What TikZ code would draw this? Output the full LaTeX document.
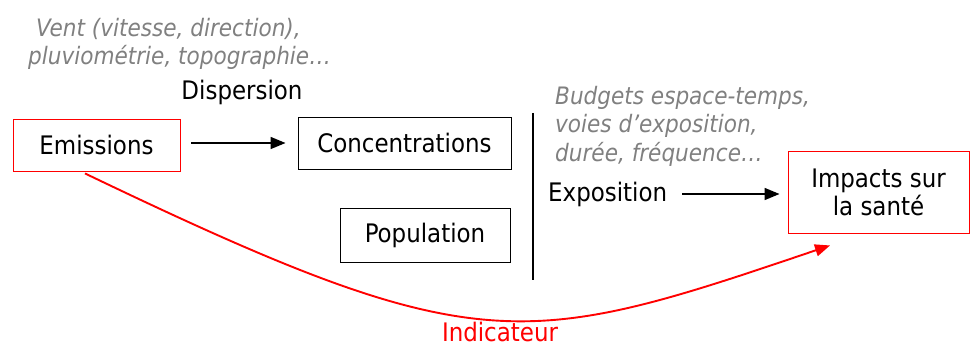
\documentclass[tikz,border=0pt]{standalone}
\usepackage{fontspec}
\setmainfont{DejaVu Sans Condensed}
\usetikzlibrary{arrows.meta}
\definecolor{txtgray}{RGB}{128,128,128}
\definecolor{pred}{RGB}{255,0,0}
\begin{document}
\begin{tikzpicture}[x=1pt,y=-1pt,
  box/.style={draw=black, line width=0.9pt, inner sep=0pt, font=\fontsize{25.5}{31}\selectfont},
  redbox/.style={box, draw=pred},
  lbl/.style={inner sep=0pt, font=\fontsize{25.5}{31}\selectfont},
  note/.style={inner sep=0pt, anchor=base west, text=txtgray, font=\fontsize{24}{28}\selectfont\itshape},
  arr/.style={line width=1.5pt, -{Triangle[length=15pt,width=12pt]}},
  redarr/.style={line width=1.9pt, draw=pred, -{Triangle[length=15pt,width=12pt]}}
]
\useasboundingbox (0,0) rectangle (971,347);

\node[redbox, minimum width=167pt, minimum height=52pt] (emis) at (96.5,145) {Emissions};
\node[box, minimum width=213pt, minimum height=52pt] (conc) at (404.5,143) {Concentrations};
\node[box, minimum width=170pt, minimum height=54pt] (pop) at (425,235) {Population};
\node[redbox, minimum width=181pt, minimum height=82pt, align=center] (imp) at (878.5,192) {Impacts sur\\[-3pt]la santé};

\node[lbl, anchor=base] (disp) at (242,99.5) {Dispersion};
\node[lbl, anchor=west] (expo) at (548,194) {Exposition};
\node[lbl, anchor=base, text=pred] (ind) at (500,341) {Indicateur};

\node[note] (n1) at (36,36.7) {Vent (vitesse, direction),};
\node[note] (n2) at (28,65) {pluviométrie, topographie…};
\node[note] (n3) at (555,105) {Budgets espace-temps,};
\node[note] (n4) at (555,133) {voies d’exposition,};
\node[note] (n5) at (555,162) {durée, fréquence…};

\coordinate (vt) at (533,113);
\coordinate (vb) at (533,280);
\draw[line width=2pt] (vt) -- (vb);

\draw[arr, shorten <=11pt, shorten >=12pt] (emis.east |- conc.west) -- (conc.west);
\draw[arr, shorten <=15pt, shorten >=8pt] (expo.east) -- (imp.west |- expo.east);

\draw[redarr] ([xshift=-11.5pt,yshift=-2pt]emis.south) .. controls (478,362) and (522,350) .. ([xshift=-48.5pt,yshift=-12pt]imp.south);
\end{tikzpicture}
\end{document}
